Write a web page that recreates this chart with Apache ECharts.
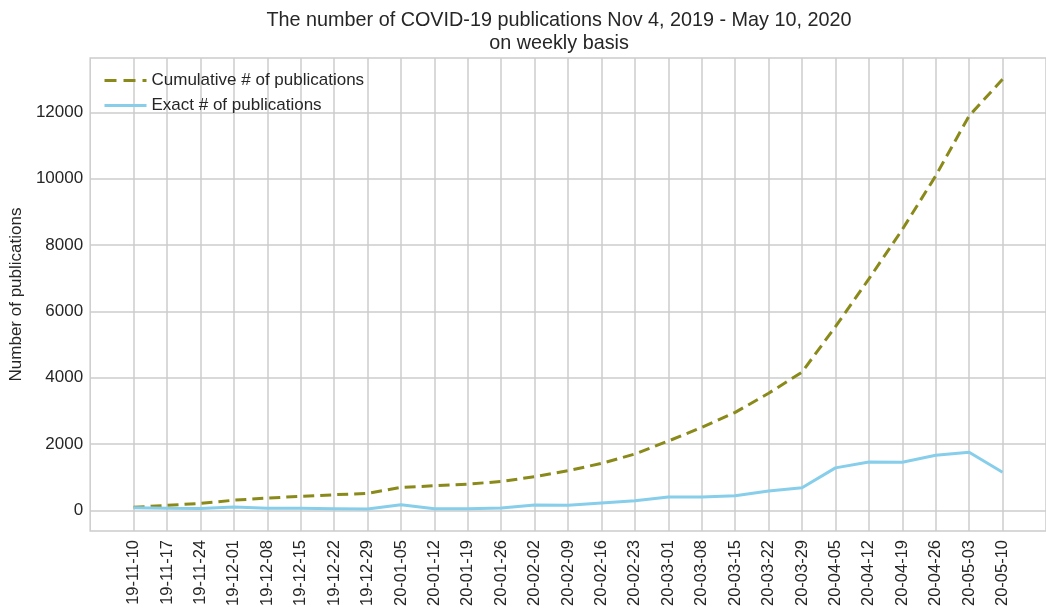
<!DOCTYPE html>
<html lang="en">
<head>
  <meta charset="UTF-8">
  <title>COVID-19 publications</title>
  <style type="text/css">
    html, body { margin: 0; padding: 0; background: #fff; }
    #chart { width: 1046px; height: 612px; }
  </style>
</head>
<body>
  <div id="chart"></div>
  <script src="https://cdn.jsdelivr.net/npm/echarts@6/dist/echarts.min.js"></script>
  <script>
    const weeks = [
      '19-11-10', '19-11-17', '19-11-24', '19-12-01', '19-12-08', '19-12-15', '19-12-22', '19-12-29',
      '20-01-05', '20-01-12', '20-01-19', '20-01-26', '20-02-02', '20-02-09', '20-02-16', '20-02-23',
      '20-03-01', '20-03-08', '20-03-15', '20-03-22', '20-03-29', '20-04-05', '20-04-12', '20-04-19',
      '20-04-26', '20-05-03', '20-05-10'
    ]
    const cumulative = [
      90, 150, 210, 305, 370, 420, 470, 510,
      690, 740, 790, 870, 1015, 1195, 1415, 1700,
      2090, 2500, 2955, 3530, 4170, 5540, 6980, 8470,
      10090, 11900, 13000
    ]
    const exact = [
      80, 60, 55, 100, 60, 60, 50, 40,
      170, 50, 45, 70, 160, 150, 220, 290,
      400, 400, 440, 580, 680, 1280, 1460, 1450,
      1660, 1750, 1150
    ]
    const yTicks = [0, 2000, 4000, 6000, 8000, 10000, 12000]

    const gridColor = '#cccccc'
    const textColor = '#262626'
    const font = 'Liberation Sans, Arial, sans-serif'
    const xIdx = weeks.map((_, i) => i)

    const chart = echarts.init(document.getElementById('chart'))

    chart.setOption({
      animation: false,
      textStyle: { fontFamily: font, color: textColor },
      title: [
        {
          text: 'The number of COVID-19 publications Nov 4, 2019 - May 10, 2020',
          left: 554, top: 6, textAlign: 'center',
          textStyle: { fontSize: 19.8, fontWeight: 'normal', color: textColor, fontFamily: font }
        },
        {
          text: 'on weekly basis',
          left: 554, top: 29, textAlign: 'center',
          textStyle: { fontSize: 19.8, fontWeight: 'normal', color: textColor, fontFamily: font }
        }
      ],
      legend: {
        orient: 'vertical',
        left: 98, top: 67,
        itemWidth: 42, itemHeight: 14, itemGap: 8,
        itemStyle: { opacity: 0 },
        textStyle: { fontSize: 17, color: textColor, fontFamily: font },
        data: [
          { name: 'Cumulative # of publications', lineStyle: { width: 3, type: [12, 7] } },
          { name: 'Exact # of publications', lineStyle: { width: 3 } }
        ]
      },
      grid: {
        left: 88, top: 58, bottom: 81, right: -9.3,
        show: true, borderColor: gridColor, borderWidth: 1.5
      },
      xAxis: {
        type: 'value',
        min: -1.3, max: 27.3,
        axisLine: { show: false },
        axisTick: { show: false, customValues: xIdx },
        splitLine: { show: true, lineStyle: { color: gridColor, width: 1.5 } },
        axisLabel: {
          customValues: xIdx,
          rotate: 90, margin: 9,
          fontSize: 16.5, color: textColor, fontFamily: font,
          formatter: v => weeks[Math.round(v)]
        }
      },
      yAxis: {
        type: 'value',
        min: -624, max: 13644,
        name: 'Number of publications',
        nameLocation: 'middle', nameGap: 62,
        nameTextStyle: { fontSize: 17, color: textColor, fontFamily: font },
        axisLine: { show: false },
        axisTick: { show: false, customValues: yTicks },
        splitLine: { show: true, lineStyle: { color: gridColor, width: 1.5 } },
        axisLabel: {
          customValues: yTicks,
          margin: 7,
          fontSize: 17, color: textColor, fontFamily: font,
          formatter: v => String(v)
        }
      },
      series: [
        {
          name: 'Cumulative # of publications',
          type: 'line',
          symbol: 'none',
          color: '#8a8a1a',
          lineStyle: { width: 3, type: [11, 6], color: '#8a8a1a' },
          data: cumulative.map((v, i) => [i, v])
        },
        {
          name: 'Exact # of publications',
          type: 'line',
          symbol: 'none',
          color: '#87ceeb',
          lineStyle: { width: 3, color: '#87ceeb' },
          data: exact.map((v, i) => [i, v])
        }
      ]
    })
  </script>
</body>
</html>
